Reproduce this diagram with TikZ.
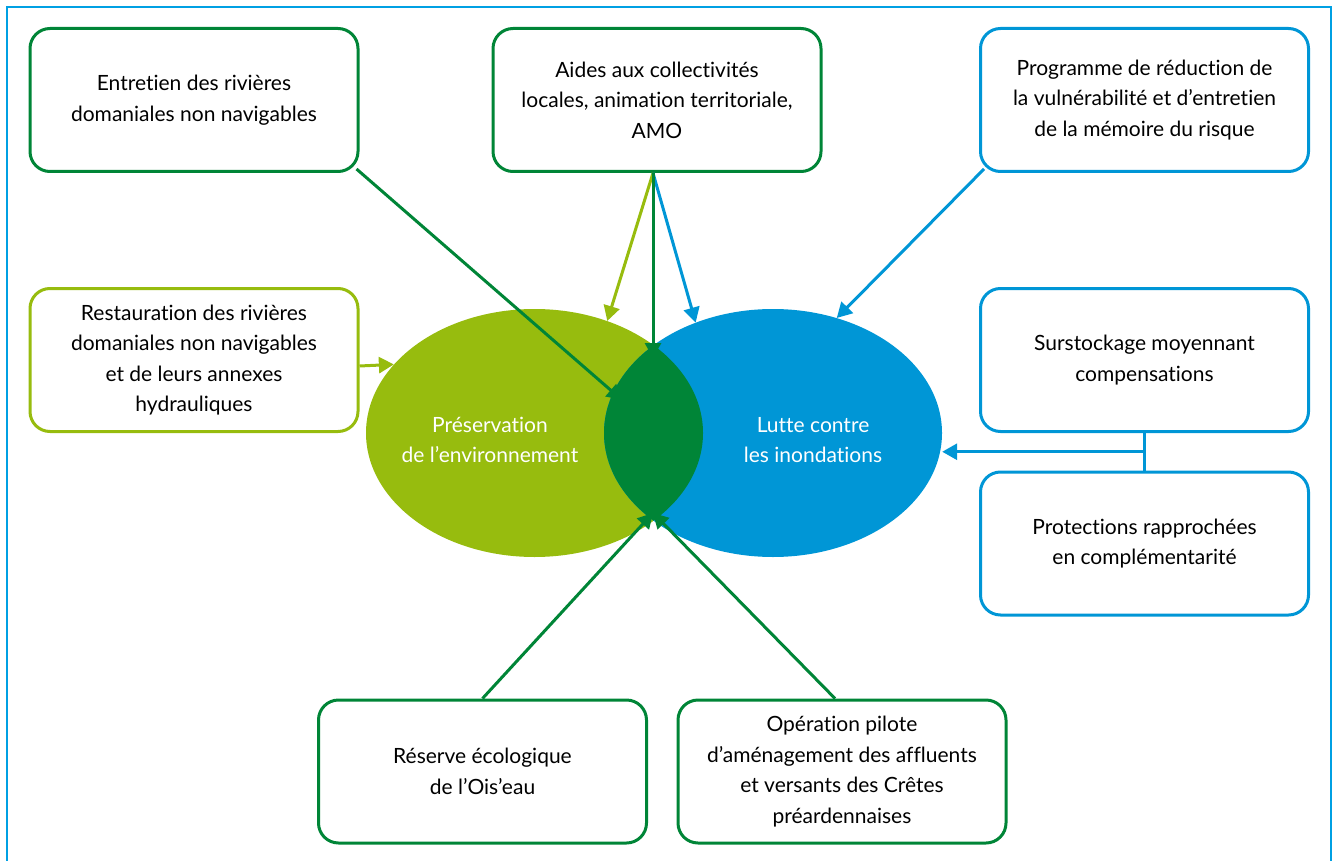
\documentclass[tikz,border=0pt]{standalone}
\usepackage{fontspec}
\setmainfont{Lato}[Ligatures=NoCommon]
\usepackage{tikz}
\usetikzlibrary{shapes.geometric,arrows.meta,positioning,calc}
\definecolor{frameblue}{RGB}{0,160,227}

\begin{document}
\begin{tikzpicture}[x=1pt,y=-1pt,>={Triangle[length=15pt,width=16pt]},
  box/.style={draw,line width=3pt,rounded corners=20pt,fill=white,align=center,
    minimum width=328pt,minimum height=143pt,font=\fontsize{21}{30.5}\selectfont},
  arr/.style={->,line width=3pt},
  inner/.style={align=center,text=white,font=\fontsize{21}{30.5}\selectfont}]
\definecolor{cG}{RGB}{0,133,55}\definecolor{cL}{RGB}{151,188,14}\definecolor{cB}{RGB}{0,150,214}
\useasboundingbox (0,0) rectangle (1335,861);
\draw[frameblue,line width=2.5pt] (7,895) -- (7,7) -- (1331,7) -- (1331,895);
% les deux ensembles
\node[ellipse,fill=cL,minimum width=337pt,minimum height=248pt,inner sep=0pt] (pres) at (534.5,433) {};
\node[ellipse,fill=cB,minimum width=338pt,minimum height=248pt,inner sep=0pt] (lutte) at (773,433) {};
\begin{scope}
\clip (534.5,433) ellipse [x radius=168.5pt,y radius=124pt];
\fill[cG] (773,433) ellipse [x radius=169pt,y radius=124pt];
\end{scope}
\node[inner] (presl) at (490,440) {Préservation\\de l'environnement};
\node[inner] (luttel) at (813,440) {Lutte contre\\les inondations};
\coordinate (lenstop) at (653,358);
\coordinate (lensbot) at (653,513);
\coordinate (lensleft) at (622,400);
% actions
\node[box,draw=cG] (entretien) at (194,100) {Entretien des rivières\\domaniales non navigables};
\node[box,draw=cG] (aides) at (657,100) {Aides aux collectivités\\locales, animation territoriale,\\AMO};
\node[box,draw=cB] (programme) at (1144.5,100) {Programme de réduction de\\la vulnérabilité et d'entretien\\de la mémoire du risque};
\node[box,draw=cL] (restauration) at (194,360) {Restauration des rivières\\domaniales non navigables\\et de leurs annexes\\hydrauliques};
\node[box,draw=cB] (surstockage) at (1144.5,360) {Surstockage moyennant\\compensations};
\node[box,draw=cB] (protections) at (1144.5,543.5) {Protections rapprochées\\en complémentarité};
\node[box,draw=cG] (reserve) at (482.5,771.5) {Réserve écologique\\de l'Ois'eau};
\node[box,draw=cG] (operation) at (842,771.5) {Opération pilote\\d'aménagement des affluents\\et versants des Crêtes\\préardennaises};
% fleches
\draw[arr,cG] ([shift={(-3,-4)}]entretien.south east) -- (lensleft);
\draw[arr,cL] ([xshift=-4]aides.south) -- (pres.57);
\draw[arr,cB] ([xshift=-4]aides.south) -- (lutte.125);
\draw[arr,cG] ([xshift=-4]aides.south) -- (lenstop);
\draw[arr,cB] ([shift={(5,-4)}]programme.south west) -- (lutte.61);
\draw[arr,cL] ([yshift=-6]restauration.east) -- (pres.154);
\coordinate (jn) at ($(surstockage.south)!0.5!(protections.north)$);
\draw[cB,line width=3pt] (surstockage.south) -- (protections.north);
\draw[arr,cB] (jn) -- (jn -| lutte.east);
\draw[arr,cG] (reserve.north) -- (lensbot);
\draw[arr,cG] ([xshift=-7]operation.north) -- (lensbot);
\end{tikzpicture}
\end{document}
